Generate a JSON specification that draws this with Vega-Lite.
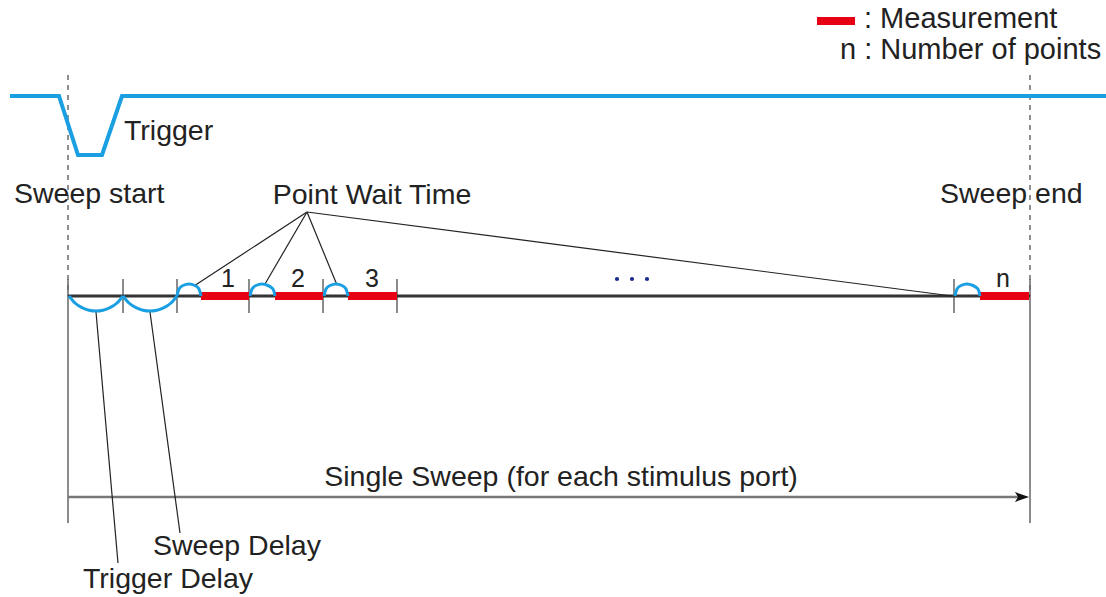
{
  "$schema": "https://vega.github.io/schema/vega-lite/v6.json",
  "width": 1106,
  "height": 597,
  "autosize": {"type": "none"},
  "padding": 0,
  "background": "white",
  "config": {"view": {"stroke": null}},
  "datasets": {
    "dashed": [
      {"x": 68, "y": 75, "x2": 68, "y2": 296},
      {"x": 1030, "y": 75, "x2": 1030, "y2": 296}
    ],
    "ticks": [
      {"x": 68, "y": 279, "x2": 68, "y2": 523},
      {"x": 123, "y": 279, "x2": 123, "y2": 313},
      {"x": 177, "y": 279, "x2": 177, "y2": 313},
      {"x": 249, "y": 279, "x2": 249, "y2": 313},
      {"x": 323, "y": 279, "x2": 323, "y2": 313},
      {"x": 397, "y": 279, "x2": 397, "y2": 313},
      {"x": 954, "y": 279, "x2": 954, "y2": 313},
      {"x": 1030, "y": 279, "x2": 1030, "y2": 523}
    ],
    "timeline": [
      {"x": 68, "y": 296, "x2": 1030, "y2": 296}
    ],
    "measure": [
      {"x": 201, "y": 296, "x2": 249, "y2": 296},
      {"x": 275, "y": 296, "x2": 323, "y2": 296},
      {"x": 348, "y": 296, "x2": 397, "y2": 296},
      {"x": 980, "y": 296, "x2": 1029, "y2": 296},
      {"x": 817, "y": 21, "x2": 855, "y2": 21}
    ],
    "pointers": [
      {"x": 307, "y": 212, "x2": 194, "y2": 286},
      {"x": 307, "y": 212, "x2": 265, "y2": 284},
      {"x": 307, "y": 212, "x2": 337, "y2": 285},
      {"x": 307, "y": 212, "x2": 952, "y2": 296},
      {"x": 96, "y": 312, "x2": 118, "y2": 563},
      {"x": 150, "y": 312, "x2": 180, "y2": 533}
    ],
    "sweep": [
      {"x": 68, "y": 497, "x2": 1020, "y2": 497}
    ],
    "arrowhead": [
      {"x": 1022, "y": 497}
    ],
    "trigger": [
      {"o": 1, "x": 10, "y": 96},
      {"o": 2, "x": 59, "y": 96},
      {"o": 3, "x": 78, "y": 155},
      {"o": 4, "x": 102, "y": 155},
      {"o": 5, "x": 122, "y": 96},
      {"o": 6, "x": 1106, "y": 96}
    ],
    "arcs": [
      {"id": "td", "o": 1, "x": 69, "y": 296},
      {"id": "td", "o": 2, "x": 75, "y": 303},
      {"id": "td", "o": 3, "x": 82, "y": 307.7},
      {"id": "td", "o": 4, "x": 89, "y": 310.2},
      {"id": "td", "o": 5, "x": 96, "y": 311},
      {"id": "td", "o": 6, "x": 103, "y": 310.2},
      {"id": "td", "o": 7, "x": 110, "y": 307.7},
      {"id": "td", "o": 8, "x": 117, "y": 303},
      {"id": "td", "o": 9, "x": 123, "y": 296},
      {"id": "sd", "o": 1, "x": 123, "y": 296},
      {"id": "sd", "o": 2, "x": 129, "y": 303},
      {"id": "sd", "o": 3, "x": 136, "y": 307.7},
      {"id": "sd", "o": 4, "x": 143, "y": 310.2},
      {"id": "sd", "o": 5, "x": 150, "y": 311},
      {"id": "sd", "o": 6, "x": 157, "y": 310.2},
      {"id": "sd", "o": 7, "x": 164, "y": 307.7},
      {"id": "sd", "o": 8, "x": 171, "y": 303},
      {"id": "sd", "o": 9, "x": 177, "y": 296},
      {"id": "p1", "o": 1, "x": 177, "y": 296},
      {"id": "p1", "o": 2, "x": 179, "y": 289},
      {"id": "p1", "o": 3, "x": 183, "y": 285.5},
      {"id": "p1", "o": 4, "x": 189, "y": 284},
      {"id": "p1", "o": 5, "x": 195, "y": 285.5},
      {"id": "p1", "o": 6, "x": 199, "y": 289},
      {"id": "p1", "o": 7, "x": 201, "y": 296},
      {"id": "p2", "o": 1, "x": 250, "y": 296},
      {"id": "p2", "o": 2, "x": 252, "y": 289},
      {"id": "p2", "o": 3, "x": 256, "y": 285.5},
      {"id": "p2", "o": 4, "x": 262, "y": 284},
      {"id": "p2", "o": 5, "x": 268, "y": 285.5},
      {"id": "p2", "o": 6, "x": 273, "y": 289},
      {"id": "p2", "o": 7, "x": 275, "y": 296},
      {"id": "p3", "o": 1, "x": 324, "y": 296},
      {"id": "p3", "o": 2, "x": 326, "y": 289},
      {"id": "p3", "o": 3, "x": 330, "y": 285.5},
      {"id": "p3", "o": 4, "x": 336, "y": 284},
      {"id": "p3", "o": 5, "x": 342, "y": 285.5},
      {"id": "p3", "o": 6, "x": 346, "y": 289},
      {"id": "p3", "o": 7, "x": 348, "y": 296},
      {"id": "pn", "o": 1, "x": 955, "y": 296},
      {"id": "pn", "o": 2, "x": 957, "y": 289},
      {"id": "pn", "o": 3, "x": 961, "y": 285.5},
      {"id": "pn", "o": 4, "x": 967, "y": 284},
      {"id": "pn", "o": 5, "x": 973, "y": 285.5},
      {"id": "pn", "o": 6, "x": 978, "y": 289},
      {"id": "pn", "o": 7, "x": 980, "y": 296}
    ],
    "dots": [
      {"x": 617, "y": 279},
      {"x": 632, "y": 279},
      {"x": 647, "y": 279}
    ],
    "textLeft": [
      {"x": 124, "y": 140, "t": "Trigger"},
      {"x": 14, "y": 203, "t": "Sweep start"},
      {"x": 940, "y": 203, "t": "Sweep end"},
      {"x": 153, "y": 555, "t": "Sweep Delay"},
      {"x": 83, "y": 588, "t": "Trigger Delay"}
    ],
    "legendText": [
      {"x": 864, "y": 28, "t": ": Measurement"},
      {"x": 840, "y": 59, "t": "n : Number of points"}
    ],
    "textCenter": [
      {"x": 372, "y": 204, "t": "Point Wait Time"},
      {"x": 561, "y": 486, "t": "Single Sweep (for each stimulus port)"}
    ],
    "labels": [
      {"x": 228, "y": 287, "t": "1"},
      {"x": 298, "y": 287, "t": "2"},
      {"x": 372, "y": 287, "t": "3"},
      {"x": 1003, "y": 287, "t": "n"}
    ]
  },
  "encoding": {
    "x": {"field": "x", "type": "quantitative", "scale": {"domain": [0, 1106], "nice": false, "zero": false}, "axis": null},
    "y": {"field": "y", "type": "quantitative", "scale": {"domain": [0, 597], "reverse": true, "nice": false, "zero": false}, "axis": null}
  },
  "layer": [
    {
      "data": {"name": "dashed"},
      "mark": {"type": "rule", "color": "#555555", "strokeWidth": 1.3, "strokeDash": [5, 5]},
      "encoding": {"x2": {"field": "x2"}, "y2": {"field": "y2"}}
    },
    {
      "data": {"name": "ticks"},
      "mark": {"type": "rule", "color": "#666666", "strokeWidth": 1.5},
      "encoding": {"x2": {"field": "x2"}, "y2": {"field": "y2"}}
    },
    {
      "data": {"name": "timeline"},
      "mark": {"type": "rule", "color": "#333333", "strokeWidth": 3},
      "encoding": {"x2": {"field": "x2"}, "y2": {"field": "y2"}}
    },
    {
      "data": {"name": "sweep"},
      "mark": {"type": "rule", "color": "#777777", "strokeWidth": 2.5},
      "encoding": {"x2": {"field": "x2"}, "y2": {"field": "y2"}}
    },
    {
      "data": {"name": "arrowhead"},
      "mark": {"type": "point", "shape": "M-1,-0.7L1,0L-1,0.7L-0.55,0Z", "filled": true, "color": "#111111", "opacity": 1, "size": 200}
    },
    {
      "data": {"name": "pointers"},
      "mark": {"type": "rule", "color": "#222222", "strokeWidth": 1.2},
      "encoding": {"x2": {"field": "x2"}, "y2": {"field": "y2"}}
    },
    {
      "data": {"name": "measure"},
      "mark": {"type": "rule", "color": "#e60012", "strokeWidth": 8, "strokeCap": "butt"},
      "encoding": {"x2": {"field": "x2"}, "y2": {"field": "y2"}}
    },
    {
      "data": {"name": "trigger"},
      "mark": {"type": "line", "color": "#1a9fe3", "strokeWidth": 4, "strokeJoin": "miter"},
      "encoding": {"order": {"field": "o", "type": "quantitative"}}
    },
    {
      "data": {"name": "arcs"},
      "mark": {"type": "line", "color": "#1a9fe3", "strokeWidth": 3, "interpolate": "natural"},
      "encoding": {"detail": {"field": "id", "type": "nominal"}, "order": {"field": "o", "type": "quantitative"}}
    },
    {
      "data": {"name": "dots"},
      "mark": {"type": "circle", "color": "#1c2a8c", "opacity": 1, "size": 18}
    },
    {
      "data": {"name": "textLeft"},
      "mark": {"type": "text", "align": "left", "baseline": "alphabetic", "font": "Liberation Sans", "fontSize": 28.5, "color": "#222222"},
      "encoding": {"text": {"field": "t"}}
    },
    {
      "data": {"name": "legendText"},
      "mark": {"type": "text", "align": "left", "baseline": "alphabetic", "font": "Liberation Sans", "fontSize": 29, "color": "#222222"},
      "encoding": {"text": {"field": "t"}}
    },
    {
      "data": {"name": "textCenter"},
      "mark": {"type": "text", "align": "center", "baseline": "alphabetic", "font": "Liberation Sans", "fontSize": 28.5, "color": "#222222"},
      "encoding": {"text": {"field": "t"}}
    },
    {
      "data": {"name": "labels"},
      "mark": {"type": "text", "align": "center", "baseline": "alphabetic", "font": "Liberation Sans", "fontSize": 25, "color": "#222222"},
      "encoding": {"text": {"field": "t"}}
    }
  ]
}
